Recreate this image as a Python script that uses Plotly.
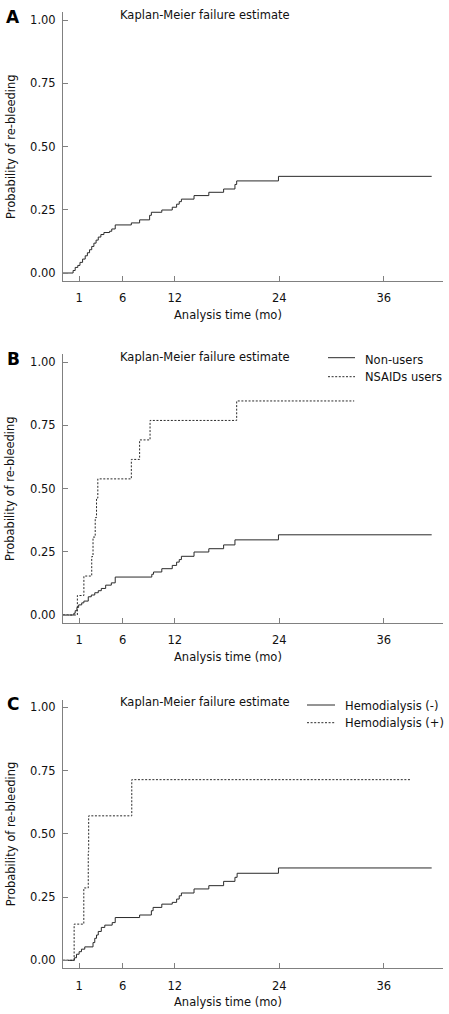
import plotly.graph_objects as go

W, H = 449, 1014

# ---------------- data ----------------
# Panel A: overall cumulative failure (time in months, probability)
tA = [-0.85, 0.31, 0.55, 0.85, 1.1, 1.4, 1.7, 1.95, 2.2, 2.45, 2.7, 2.95, 3.2, 3.5, 3.85,
      4.5, 4.75, 5.15, 7.0, 7.95, 9.1, 9.3, 10.5, 11.7, 12.2, 12.5, 12.75, 14.2, 15.9,
      17.6, 18.9, 19.1, 23.9, 41.5]
sA = [0.0, 0.010, 0.022, 0.030, 0.042, 0.055, 0.068, 0.080, 0.092, 0.105, 0.118, 0.130,
      0.142, 0.152, 0.160, 0.165, 0.174, 0.190, 0.198, 0.210, 0.228, 0.240, 0.249, 0.260,
      0.272, 0.282, 0.292, 0.306, 0.319, 0.332, 0.350, 0.364, 0.382, 0.382]

# Panel B: Non-users
tB1 = [-0.85, 0.4, 0.55, 0.75, 0.95, 1.3, 1.55, 2.05, 2.4, 2.8, 3.2, 3.55, 4.05, 4.7, 5.15,
       9.35, 9.55, 10.5, 11.7, 12.2, 12.5, 12.75, 14.2, 15.9, 17.6, 18.9, 23.9, 41.5]
sB1 = [0.0, 0.007, 0.017, 0.030, 0.040, 0.048, 0.055, 0.072, 0.079, 0.088, 0.096, 0.105,
       0.118, 0.127, 0.150, 0.161, 0.170, 0.183, 0.196, 0.209, 0.219, 0.232, 0.249, 0.262,
       0.277, 0.297, 0.317, 0.317]
# Panel B: NSAIDs users
tB2 = [-0.85, 0.8, 1.55, 2.45, 2.6, 2.85, 3.0, 3.15, 7.0, 7.95, 9.15, 19.1, 32.6]
sB2 = [0.0, 0.077, 0.154, 0.231, 0.308, 0.385, 0.462, 0.538, 0.615, 0.692, 0.769, 0.846, 0.846]

# Panel C: Hemodialysis (-)
tC1 = [-0.85, 0.45, 0.7, 1.0, 1.27, 1.65, 2.6, 2.8, 3.0, 3.2, 3.55, 3.95, 4.8, 5.15, 7.95,
       9.3, 9.5, 10.5, 11.7, 12.2, 12.5, 12.75, 14.2, 15.9, 17.6, 18.9, 19.15, 23.9, 41.5]
sC1 = [0.0, 0.010, 0.024, 0.034, 0.044, 0.053, 0.070, 0.087, 0.100, 0.114, 0.130, 0.139,
       0.149, 0.169, 0.179, 0.196, 0.209, 0.222, 0.229, 0.242, 0.255, 0.266, 0.282, 0.295,
       0.312, 0.328, 0.344, 0.365, 0.365]
# Panel C: Hemodialysis (+)
tC2 = [-0.85, 0.43, 1.54, 2.05, 2.1, 7.05, 39.1]
sC2 = [0.0, 0.143, 0.286, 0.429, 0.571, 0.714, 0.714]

x_ticks = [1, 6, 12, 24, 36]
y_ticks = [0, 0.25, 0.5, 0.75, 1.0]
panel_letters = ["A", "B", "C"]
km_title = "Kaplan-Meier failure estimate"
x_title = "Analysis time (mo)"
y_title = "Probability of re-bleeding"
legend_B = ["Non-users", "NSAIDs users"]
legend_C = ["Hemodialysis (-)", "Hemodialysis (+)"]

# ---------------- layout helpers ----------------
FONT = "DejaVu Sans"
FS = 11.5
AXC = "#808080"
LINEC = "#2a2a2a"
DOT = "2px,1.6px"


def fx(px):
    return px / W


def fy(py):
    return 1 - py / H


# vertical pixel position of the 1.00 tick in each panel
top_tick = [20, 362, 707.3]
ppu = 253.0
yr = [-0.03, 1.03]
x_dom = [fx(63), fx(443)]
xr = [-0.85, 42.8]

fig = go.Figure()

series = [
    (1, tA, sA, "solid", 1),
    (2, tB1, sB1, "solid", 1),
    (2, tB2, sB2, DOT, 1),
    (3, tC1, sC1, "solid", 1),
    (3, tC2, sC2, DOT, 1),
]
for idx, t, s, dash, w in series:
    sfx = "" if idx == 1 else str(idx)
    fig.add_trace(go.Scatter(
        x=t, y=s, mode="lines", line=dict(shape="hv", color=LINEC, width=w, dash=dash),
        xaxis="x" + sfx, yaxis="y" + sfx, showlegend=False, hoverinfo="skip"))

annotations = []
shapes = []
layout = dict(
    width=W, height=H, margin=dict(l=0, r=0, t=0, b=0),
    paper_bgcolor="white", plot_bgcolor="white", showlegend=False,
    font=dict(family=FONT, size=FS, color="#111"),
)

for i in range(3):
    sfx = "" if i == 0 else str(i + 1)
    t1 = top_tick[i]
    top_px = t1 - (yr[1] - 1) * ppu
    bot_px = t1 + (1 - yr[0]) * ppu
    axis_common = dict(
        showline=True, linecolor=AXC, linewidth=1, showgrid=False, zeroline=False,
        ticks="inside", ticklen=5, tickwidth=1, tickcolor=AXC,
        tickfont=dict(family=FONT, size=FS, color="#111"),
    )
    layout["xaxis" + sfx] = dict(
        axis_common, domain=x_dom, range=xr, tickvals=x_ticks,
        anchor="y" + sfx, ticklabelstandoff=7)
    layout["yaxis" + sfx] = dict(
        axis_common, domain=[fy(bot_px), fy(top_px)], range=yr, tickvals=y_ticks,
        tickformat=".2f", anchor="x" + sfx, ticklabelstandoff=4)

    # panel letter
    annotations.append(dict(text="<b>%s</b>" % panel_letters[i], x=fx(13), y=fy(t1 - 3),
                            xref="paper", yref="paper", showarrow=False, xanchor="center",
                            yanchor="middle", font=dict(family=FONT, size=17, color="#000")))
    # KM title
    annotations.append(dict(text=km_title, x=fx(118), y=fy(t1 - 5), xref="paper", yref="paper",
                            showarrow=False, xanchor="left", yanchor="middle",
                            font=dict(family=FONT, size=FS, color="#111")))
    # x title
    annotations.append(dict(text=x_title, x=fx(228), y=fy(bot_px + 34), xref="paper",
                            yref="paper", showarrow=False, xanchor="center", yanchor="middle",
                            font=dict(family=FONT, size=FS, color="#111")))
    # y title
    annotations.append(dict(text=y_title, x=fx(10.5), y=fy((top_px + bot_px) / 2),
                            xref="paper", yref="paper", showarrow=False, textangle=-90,
                            xanchor="center", yanchor="middle",
                            font=dict(family=FONT, size=FS, color="#111")))

# legends (drawn as key samples + text)
legend_specs = [
    (legend_B, 328, 355, 362.7, [(357.7, 360), (376.7, 376.7)]),
    (legend_C, 307, 335, 343, [(705, 706), (722.7, 722.7)]),
]
for labels, x0, x1, xt, rows in legend_specs:
    for j, (lab, (ly, ty)) in enumerate(zip(labels, rows)):
        shapes.append(dict(type="line", xref="paper", yref="paper", x0=fx(x0), x1=fx(x1),
                           y0=fy(ly), y1=fy(ly),
                           line=dict(color=LINEC, width=1, dash="solid" if j == 0 else DOT)))
        annotations.append(dict(text=lab, x=fx(xt), y=fy(ty), xref="paper", yref="paper",
                                showarrow=False, xanchor="left", yanchor="middle",
                                font=dict(family=FONT, size=FS, color="#111")))

layout["annotations"] = annotations
layout["shapes"] = shapes
fig.update_layout(**layout)
fig.write_html(
    "out.html",
    config={"displayModeBar": False},
    post_script="document.body.style.margin='0';document.body.style.overflow='hidden';",
)
